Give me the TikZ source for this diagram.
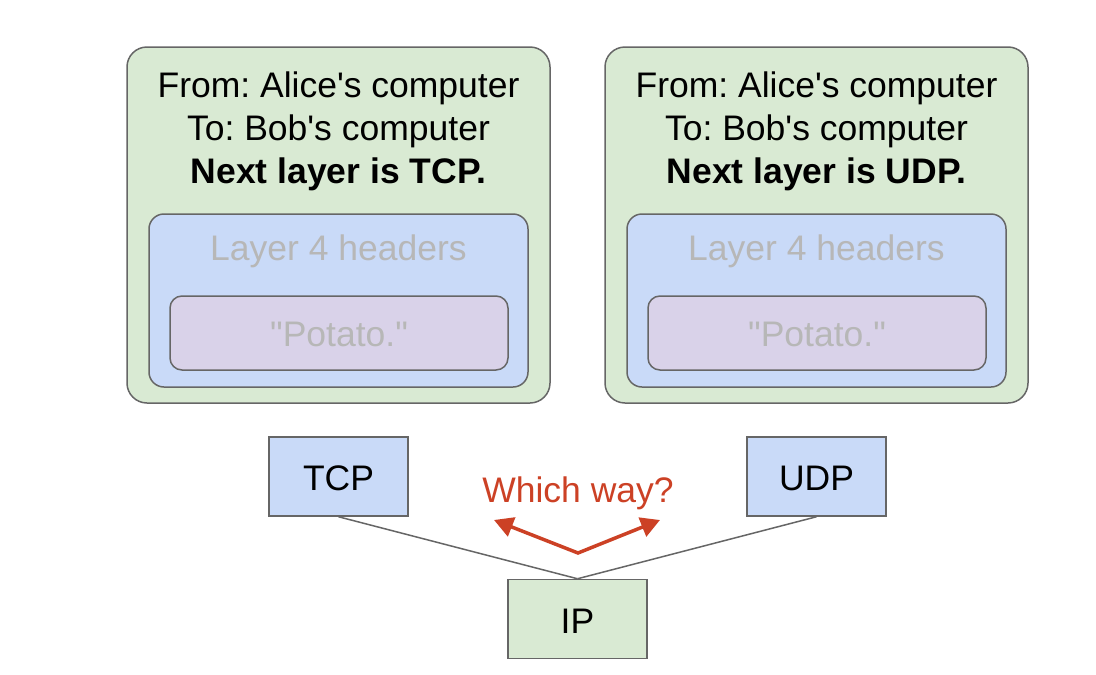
\documentclass[tikz,border=0pt]{standalone}
\usepackage{fontspec}
\setmainfont{Liberation Sans}
\usetikzlibrary{arrows.meta}
\definecolor{greenfill}{HTML}{D9EAD3}
\definecolor{bluefill}{HTML}{C9DAF8}
\definecolor{purplefill}{HTML}{D9D2E9}
\definecolor{edgegray}{HTML}{666666}
\definecolor{fadetext}{HTML}{B7B7B7}
\definecolor{redish}{HTML}{CC4125}
\frenchspacing
\tikzset{
  box/.style={draw=edgegray, line width=1.5pt, inner sep=0pt},
  outerbox/.style={box, fill=greenfill, rounded corners=20pt, minimum width=423pt, minimum height=356pt},
  l4box/.style={box, fill=bluefill, rounded corners=15pt, minimum width=379pt, minimum height=173pt},
  databox/.style={box, fill=purplefill, rounded corners=12pt, minimum width=338pt, minimum height=74pt},
  protobox/.style={box, minimum width=139pt, minimum height=79pt},
  txt/.style={font=\fontsize{35.5}{42}\selectfont, inner sep=0pt, anchor=base},
  fadetxt/.style={txt, text=fadetext},
  link/.style={draw=edgegray, line width=1.5pt},
  redarrow/.style={draw=redish, line width=3.5pt, {Triangle[length=19pt,width=20pt]}-{Triangle[length=19pt,width=20pt]}}
}
\begin{document}
\begin{tikzpicture}[x=1pt,y=-1pt]
\useasboundingbox[fill=white] (0,0) rectangle (1096,675);
% left packet
\node[outerbox] (outA) at (338.5,225) {};
\node[l4box] (l4A) at (338.5,300.5) {};
\node[databox] (dataA) at (339,333) {};
\node[txt] (fromA) at (338.5,97) {From: Alice\textquotesingle s computer};
\node[txt] (toA) at (338.5,140) {To: Bob\textquotesingle s computer};
\node[txt] (nextA) at (338.5,183) {\bfseries Next layer is TCP.};
\node[fadetxt] (hdrA) at (338.5,260) {Layer 4 headers};
\node[fadetxt] (potA) at (339,346) {\textquotedbl Potato.\textquotedbl};
% right packet
\node[outerbox] (outB) at (816.5,225) {};
\node[l4box] (l4B) at (816.5,300.5) {};
\node[databox] (dataB) at (817,333) {};
\node[txt] (fromB) at (816.5,97) {From: Alice\textquotesingle s computer};
\node[txt] (toB) at (816.5,140) {To: Bob\textquotesingle s computer};
\node[txt] (nextB) at (816.5,183) {\bfseries Next layer is UDP.};
\node[fadetxt] (hdrB) at (816.5,260) {Layer 4 headers};
\node[fadetxt] (potB) at (817,346) {\textquotedbl Potato.\textquotedbl};
% protocol boxes
\node[protobox, fill=bluefill] (tcp) at (338.5,476.5) {};
\node[txt] (tcpT) at (338.5,490) {TCP};
\node[protobox, fill=bluefill] (udp) at (816.5,476.5) {};
\node[txt] (udpT) at (816.5,490) {UDP};
\node[protobox, fill=greenfill] (ip) at (577.5,619) {};
\node[txt] (ipT) at (577.5,633) {IP};
\draw[link] (tcp.south) -- (ip.north);
\draw[link] (udp.south) -- (ip.north);
% which way
\node[txt, text=redish] (which) at (578,502) {Which way?};
\coordinate (vtx) at (578,553);
\coordinate (leftTip) at (494,520);
\coordinate (rightTip) at (660,520);
\draw[redarrow] (leftTip) -- (vtx) -- (rightTip);
\end{tikzpicture}
\end{document}
